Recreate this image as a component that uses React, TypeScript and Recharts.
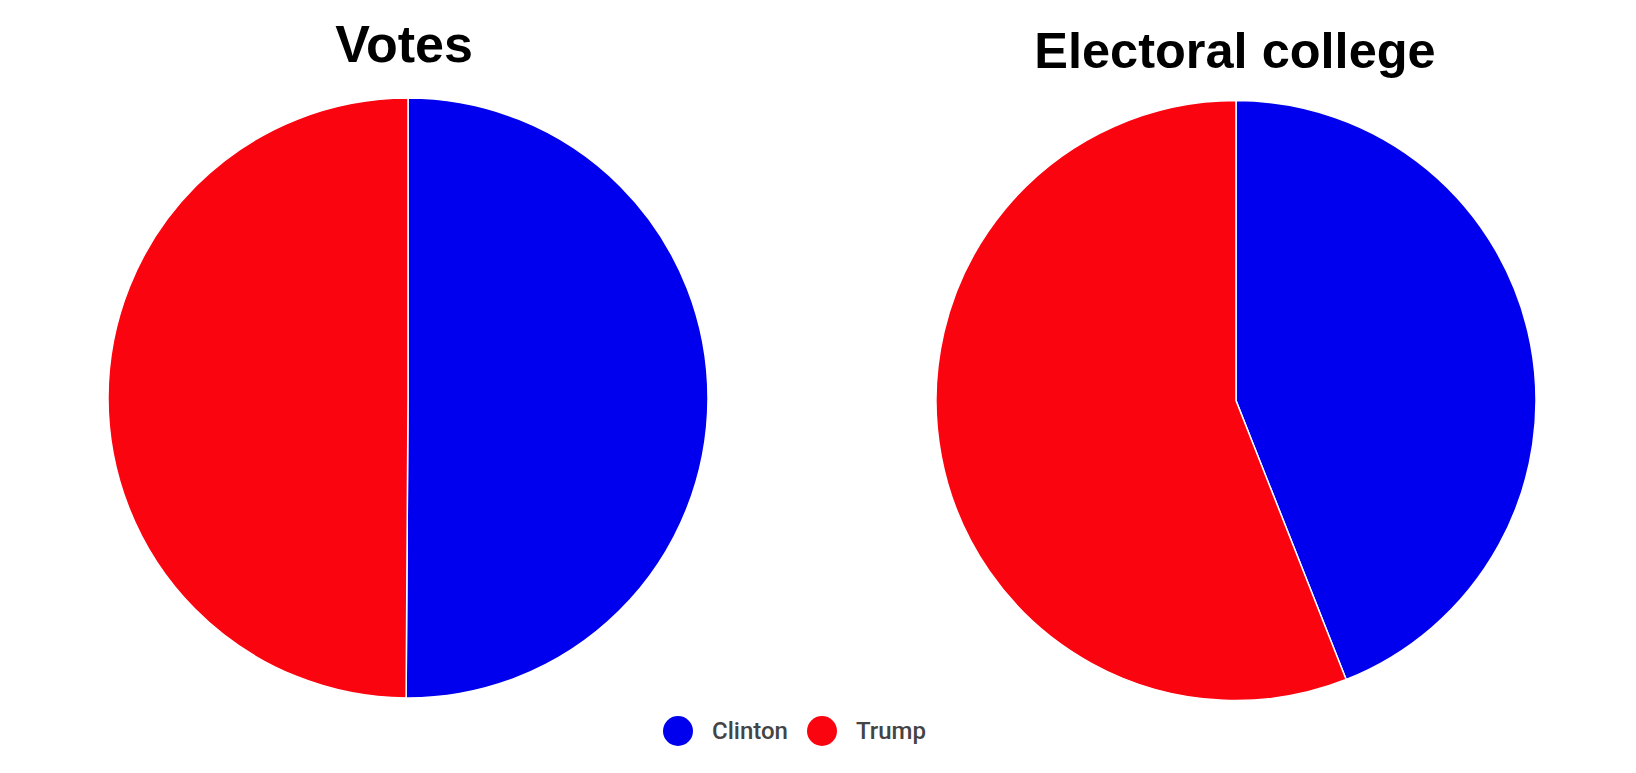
import React from "react";
import { PieChart, Pie, Cell } from "recharts";

const categories = ["Clinton", "Trump"];
const colors = ["#0000ee", "#fa0410"];
const popularVotes = [59.94, 59.7];
const electoralVotes = [228, 290];
const titles = ["Votes", "Electoral college"];

const votesData = categories.map((name, i) => ({ name, value: popularVotes[i] }));
const electoralData = categories.map((name, i) => ({ name, value: electoralVotes[i] }));

const W = 1620;
const H = 757;

export default function App() {
  return (
    <div style={{ position: "relative", width: W, height: H }}>
      <PieChart width={W} height={H}>
        <Pie
          data={votesData}
          dataKey="value"
          nameKey="name"
          cx={395}
          cy={385}
          outerRadius={300}
          startAngle={90}
          endAngle={-270}
          stroke="#ffffff"
          strokeWidth={1.5}
          isAnimationActive={false}
        >
          {votesData.map((d, i) => (
            <Cell key={d.name} fill={colors[i]} />
          ))}
        </Pie>
        <Pie
          data={electoralData}
          dataKey="value"
          nameKey="name"
          cx={1223}
          cy={387.5}
          outerRadius={300}
          startAngle={90}
          endAngle={-270}
          stroke="#ffffff"
          strokeWidth={1.5}
          isAnimationActive={false}
        >
          {electoralData.map((d, i) => (
            <Cell key={d.name} fill={colors[i]} />
          ))}
        </Pie>
      </PieChart>
      <svg
        width={W}
        height={H}
        style={{ position: "absolute", left: 0, top: 0, pointerEvents: "none" }}
      >
        <text
          x={396}
          y={54}
          textAnchor="middle"
          fontFamily="'Liberation Sans', Arial, sans-serif"
          fontWeight="bold"
          fontSize={52}
          fill="#000"
        >
          {titles[0]}
        </text>
        <text
          x={1227}
          y={60}
          textAnchor="middle"
          fontFamily="'Liberation Sans', Arial, sans-serif"
          fontWeight="bold"
          fontSize={50.5}
          fill="#000"
        >
          {titles[1]}
        </text>
      </svg>
      <div
        style={{
          position: "absolute",
          left: 655,
          top: 708,
          display: "flex",
          alignItems: "center",
          fontFamily: "Roboto, sans-serif",
          fontWeight: 500,
          fontSize: 24,
          color: "#444",
        }}
      >
        {categories.map((c, i) => (
          <div key={c} style={{ display: "flex", alignItems: "center", marginRight: 19 }}>
            <span
              style={{
                display: "inline-block",
                width: 30,
                height: 30,
                borderRadius: "50%",
                background: colors[i],
                marginRight: 19,
              }}
            />
            <span>{c}</span>
          </div>
        ))}
      </div>
    </div>
  );
}
